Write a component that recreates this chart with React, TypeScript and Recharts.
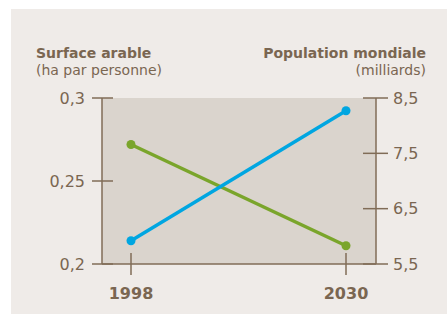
import { CartesianGrid, Line, LineChart, XAxis, YAxis } from "recharts";

const years = ["1998", "2030"];
const surfaceArable = [0.272, 0.211];
const population = [5.92, 8.27];
const leftTicks = [0.2, 0.25, 0.3];
const rightTicks = [5.5, 6.5, 7.5, 8.5];

const data = years.map((year, i) => ({
  year,
  surface: surfaceArable[i],
  population: population[i],
}));

const TEXT = "#7A6651";
const AXIS = "#806C57";
const FONT = "'DejaVu Sans', sans-serif";

const fmt = (v: number) => String(v).replace(".", ",");

const LeftTick = ({ x, y, payload }: any) => (
  <g>
    <line x1={x - 10} x2={x + 11} y1={y} y2={y} stroke={AXIS} strokeWidth={1.5} />
    <text x={x - 17} y={y} dy="0.36em" textAnchor="end" fill={TEXT} fontSize={16} fontFamily={FONT}>
      {fmt(payload.value)}
    </text>
  </g>
);

const RightTick = ({ x, y, payload }: any) => (
  <g>
    <line x1={x - 13} x2={x + 12} y1={y} y2={y} stroke={AXIS} strokeWidth={1.5} />
    <text x={x + 17} y={y} dy="0.36em" textAnchor="start" fill={TEXT} fontSize={16} fontFamily={FONT}>
      {fmt(payload.value)}
    </text>
  </g>
);

const BottomTick = ({ x, y, payload }: any) => (
  <g>
    <line x1={x} x2={x} y1={y - 11} y2={y + 11} stroke={AXIS} strokeWidth={1.5} />
    <text x={x} y={y + 35} textAnchor="middle" fill={TEXT} fontSize={16} fontWeight="bold" fontFamily={FONT}>
      {payload.value}
    </text>
  </g>
);

const title = { position: "absolute" as const, whiteSpace: "nowrap" as const, color: TEXT, fontFamily: FONT, fontSize: 14, lineHeight: "14px" };

export default function App() {
  return (
    <div style={{ position: "absolute", left: 11, top: 9, width: 436, height: 305, background: "#EFEBE8" }}>
      <div style={{ ...title, left: 25, top: 37, fontWeight: "bold" }}>Surface arable</div>
      <div style={{ ...title, left: 25, top: 54 }}>(ha par personne)</div>
      <div style={{ ...title, right: 21, top: 37, fontWeight: "bold" }}>Population mondiale</div>
      <div style={{ ...title, right: 21, top: 54 }}>(milliards)</div>
      <LineChart width={436} height={305} data={data} margin={{ top: 89, right: 0, bottom: 0, left: 0 }}>
        <CartesianGrid yAxisId="left" horizontal={false} vertical={false} fill="#DAD4CD" />
        <XAxis
          dataKey="year"
          height={50}
          padding={{ left: 29, right: 30 }}
          axisLine={{ stroke: AXIS, strokeWidth: 1.5 }}
          tickLine={false}
          tickSize={0}
          tickMargin={0}
          tick={<BottomTick />}
        />
        <YAxis
          yAxisId="left"
          orientation="left"
          width={91}
          domain={[0.2, 0.3]}
          ticks={leftTicks}
          axisLine={{ stroke: AXIS, strokeWidth: 1.5 }}
          tickLine={false}
          tickSize={0}
          tickMargin={0}
          tick={<LeftTick />}
        />
        <YAxis
          yAxisId="right"
          orientation="right"
          width={71}
          domain={[5.5, 8.5]}
          ticks={rightTicks}
          axisLine={{ stroke: AXIS, strokeWidth: 1.5 }}
          tickLine={false}
          tickSize={0}
          tickMargin={0}
          tick={<RightTick />}
        />
        <Line
          yAxisId="left"
          dataKey="surface"
          stroke="#7AA52B"
          strokeWidth={3.5}
          dot={{ r: 4.5, fill: "#7AA52B", stroke: "none" }}
          isAnimationActive={false}
        />
        <Line
          yAxisId="right"
          dataKey="population"
          stroke="#00A6E1"
          strokeWidth={3.5}
          dot={{ r: 4.5, fill: "#00A6E1", stroke: "none" }}
          isAnimationActive={false}
        />
      </LineChart>
    </div>
  );
}
